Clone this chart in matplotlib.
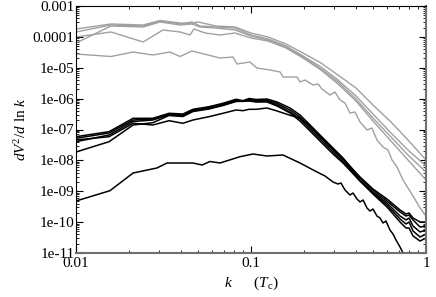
import numpy as np
import matplotlib
matplotlib.use("Agg")
import matplotlib.pyplot as plt
from matplotlib.ticker import FixedLocator, FixedFormatter, LogLocator, NullFormatter

plt.rcParams['font.family'] = ['Liberation Serif', 'DejaVu Serif']
plt.rcParams['mathtext.fontset'] = 'custom'
plt.rcParams['mathtext.rm'] = 'Liberation Serif'
plt.rcParams['mathtext.it'] = 'Liberation Serif:italic'

# ---- data: k values and log10(dV^2/dlnk) ----
k_g1 = [0.01, 0.01585, 0.0242, 0.0302, 0.0393, 0.0448, 0.0498, 0.0631, 0.0811, 0.1, 0.125, 0.1585, 0.1982, 0.2512, 0.3141, 0.3981, 0.4977, 0.631, 0.7889, 1.0]
g1 = [-3.745, -3.583, -3.615, -3.470, -3.551, -3.567, -3.518, -3.648, -3.680, -3.875, -4.004, -4.231, -4.522, -4.846, -5.235, -5.656, -6.207, -6.757, -7.340, -7.988]

k_g2 = [0.01, 0.01585, 0.0242, 0.0302, 0.0393, 0.046, 0.0511, 0.0631, 0.0811, 0.1, 0.125, 0.1585, 0.1982, 0.2512, 0.3141, 0.3981, 0.4977, 0.631, 0.7889, 1.0]
g2 = [-3.842, -3.615, -3.648, -3.486, -3.583, -3.518, -3.648, -3.680, -3.713, -3.939, -4.069, -4.296, -4.619, -4.976, -5.397, -5.915, -6.498, -7.113, -7.664, -8.182]

k_g3 = k_g2
g3 = [-4.198, -3.648, -3.680, -3.518, -3.615, -3.583, -3.680, -3.713, -3.777, -3.972, -4.101, -4.328, -4.652, -5.041, -5.462, -6.012, -6.628, -7.243, -7.826, -8.377]

k_g4 = [0.01, 0.01585, 0.0242, 0.0314, 0.0393, 0.0448, 0.0472, 0.0546, 0.0665, 0.0811, 0.1, 0.125, 0.1585, 0.1982, 0.2512, 0.3141, 0.3981, 0.4977, 0.631, 0.7889, 1.0]
g4 = [-4.004, -3.842, -4.166, -3.777, -3.842, -3.939, -3.745, -3.874, -3.939, -3.874, -4.036, -4.134, -4.360, -4.684, -5.073, -5.526, -6.077, -6.725, -7.373, -7.988, -8.636]

k_g5 = [0.01, 0.01585, 0.0212, 0.0275, 0.0344, 0.0393, 0.046, 0.0511, 0.0665, 0.0789, 0.0832, 0.0986, 0.1081, 0.1285, 0.1466, 0.1524, 0.1833, 0.1905, 0.2036, 0.2262, 0.2415, 0.2546, 0.2827, 0.302, 0.3228, 0.3445, 0.3679, 0.3929, 0.4198, 0.4603, 0.4911, 0.5245, 0.5678, 0.6063, 0.6394, 0.6829, 0.7391, 0.7889, 0.8433, 0.9247, 1.0]
g5 = [-4.555, -4.636, -4.490, -4.587, -4.490, -4.636, -4.458, -4.522, -4.684, -4.652, -4.879, -4.814, -5.008, -5.073, -5.138, -5.300, -5.300, -5.462, -5.397, -5.559, -5.526, -5.688, -5.883, -5.786, -6.045, -6.142, -6.466, -6.433, -6.757, -7.016, -6.951, -7.340, -7.567, -7.664, -7.988, -8.215, -8.636, -8.895, -9.154, -9.543, -9.802]

k_b = [0.01, 0.01545, 0.0212, 0.0275, 0.034, 0.0408, 0.0466, 0.0575, 0.0692, 0.0821, 0.0899, 0.0975, 0.1069, 0.1233, 0.1409, 0.1671, 0.1905, 0.2175, 0.2578, 0.2942, 0.3357, 0.4198, 0.4977, 0.5984, 0.7105, 0.7691, 0.7998, 0.8433, 0.9247, 1.0]
b1 = [-7.233, -7.071, -6.637, -6.637, -6.475, -6.498, -6.346, -6.262, -6.151, -6.022, -6.067, -5.996, -6.028, -6.012, -6.109, -6.304, -6.530, -6.854, -7.275, -7.599, -7.923, -8.571, -8.960, -9.316, -9.672, -9.802, -9.769, -9.931, -10.158, -10.126]
b2 = [-7.285, -7.113, -6.692, -6.660, -6.498, -6.530, -6.368, -6.287, -6.174, -6.045, -6.093, -6.028, -6.061, -6.045, -6.158, -6.368, -6.595, -6.919, -7.340, -7.664, -7.988, -8.636, -9.024, -9.381, -9.802, -9.931, -9.866, -10.126, -10.320, -10.255]
b3 = [-7.395, -7.178, -6.741, -6.692, -6.530, -6.563, -6.401, -6.320, -6.207, -6.077, -6.070, -6.061, -6.093, -6.077, -6.207, -6.433, -6.660, -6.984, -7.405, -7.729, -8.053, -8.668, -9.057, -9.445, -9.899, -10.061, -9.996, -10.288, -10.482, -10.385]
b4 = [-7.729, -7.395, -6.854, -6.780, -6.547, -6.579, -6.417, -6.336, -6.223, -6.093, -6.085, -6.077, -6.109, -6.109, -6.239, -6.466, -6.725, -7.049, -7.470, -7.794, -8.085, -8.668, -9.089, -9.510, -9.996, -10.190, -10.190, -10.449, -10.612, -10.514]
b5 = [-7.340, -7.233, -6.799, -6.854, -6.715, -6.799, -6.692, -6.585, -6.475, -6.368, -6.391, -6.346, -6.346, -6.304, -6.400, -6.540, -6.628, -6.887, -7.308, -7.632, -7.955, -8.539, -8.927, -9.251, -9.607, -9.737, -9.704, -9.866, -9.996, -9.996]

k_bn = [0.01, 0.01563, 0.0212, 0.029, 0.0331, 0.0466, 0.0525, 0.0583, 0.0665, 0.0865, 0.1026, 0.1233, 0.1524, 0.1905, 0.2384, 0.2648, 0.2942, 0.3141, 0.3266, 0.3445, 0.3679, 0.3828, 0.4034, 0.4198, 0.4368, 0.4603, 0.4786, 0.4977, 0.5245, 0.5457, 0.5678, 0.5907, 0.6223, 0.6477, 0.674, 0.7105, 0.7391, 0.7691]
bn = [-9.316, -8.982, -8.409, -8.247, -8.085, -8.085, -8.150, -8.037, -8.085, -7.881, -7.794, -7.858, -7.826, -8.085, -8.377, -8.506, -8.700, -8.765, -8.733, -8.960, -9.122, -9.057, -9.251, -9.348, -9.283, -9.543, -9.640, -9.575, -9.802, -9.866, -10.028, -9.964, -10.255, -10.385, -10.579, -10.806, -11.0, -11.23]

x_ticks = [0.01, 0.1, 1]
x_ticklabels = ['0.01', '0.1', '1']
y_ticks = [1e-3, 1e-4, 1e-5, 1e-6, 1e-7, 1e-8, 1e-9, 1e-10, 1e-11]
y_ticklabels = ['0.001', '0.0001', '1e-05', '1e-06', '1e-07', '1e-08', '1e-09', '1e-10', '1e-11']

gray = '#a0a0a0'
fig = plt.figure(figsize=(4.36, 2.97), dpi=100)
ax = fig.add_axes([76/436, 1-253/297, 350/436, 247/297])

for kk, yy in [(k_g1, g1), (k_g2, g2), (k_g3, g3), (k_g4, g4), (k_g5, g5)]:
    ax.plot(kk, 10**np.array(yy), color=gray, lw=1.0)
for yy in [b1, b2, b3, b4, b5]:
    ax.plot(k_b, 10**np.array(yy), color='black', lw=1.1)
ax.plot(k_bn, 10**np.array(bn), color='black', lw=1.1)

ax.set_xscale('log')
ax.set_yscale('log')
ax.set_xlim(0.01, 1)
ax.set_ylim(1e-11, 1e-3)

ax.xaxis.set_major_locator(FixedLocator(x_ticks))
ax.xaxis.set_major_formatter(FixedFormatter(x_ticklabels))
ax.xaxis.set_minor_locator(LogLocator(base=10, subs=np.arange(2, 10), numticks=20))
ax.xaxis.set_minor_formatter(NullFormatter())
ax.yaxis.set_major_locator(FixedLocator(y_ticks))
ax.yaxis.set_major_formatter(FixedFormatter(y_ticklabels))
ax.yaxis.set_minor_locator(LogLocator(base=10, subs=np.arange(2, 10), numticks=20))
ax.yaxis.set_minor_formatter(NullFormatter())

ax.tick_params(which='both', direction='in', top=True, right=True, labelsize=11)
ax.tick_params(which='major', length=5, width=0.8)
ax.tick_params(which='minor', length=2.5, width=0.6)
ax.tick_params(axis='y', pad=1)
ax.tick_params(axis='x', pad=3)

for s in ['left', 'top']:
    ax.spines[s].set_linewidth(0.8)
    ax.spines[s].set_color('black')
for s in ['bottom', 'right']:
    ax.spines[s].set_linewidth(1.5)
    ax.spines[s].set_color('#707070')

ax.set_ylabel(r'$dV^2/d$ ln $k$', fontsize=11, labelpad=3)
ax.set_xlabel(r'$k$      $(T_{\rm c})$', fontsize=11, labelpad=3)

fig.savefig('out.png', dpi=100)
